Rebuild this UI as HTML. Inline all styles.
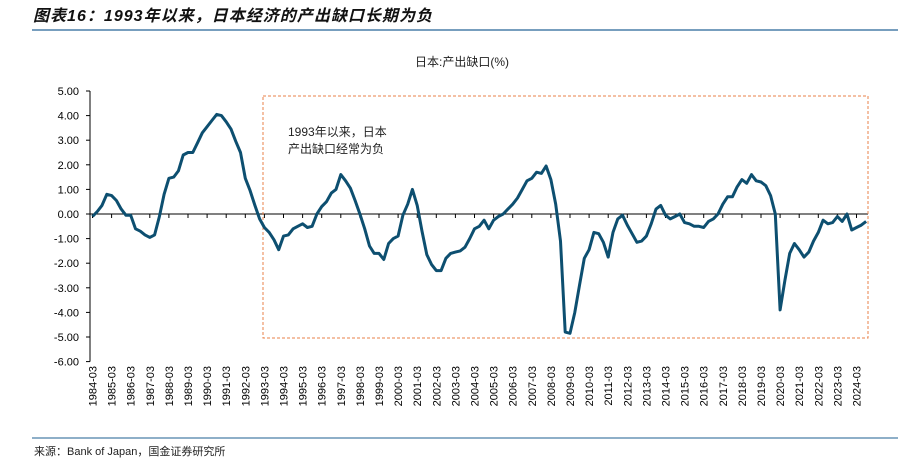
<!DOCTYPE html>
<html><head><meta charset="utf-8">
<style>
body{margin:0;background:#fff;width:898px;height:470px;overflow:hidden;font-family:"Liberation Sans","Noto Sans CJK SC",sans-serif;}
svg text{font-family:"Liberation Sans","Noto Sans CJK SC",sans-serif;}
</style></head>
<body>
<svg id="chart" width="898" height="470" viewBox="0 0 898 470" xmlns="http://www.w3.org/2000/svg">
  <text x="33" y="21" font-size="16" font-weight="bold" font-style="italic" fill="#111" textLength="399" lengthAdjust="spacing">图表16：1993年以来，日本经济的产出缺口长期为负</text>
  <line x1="32" y1="30" x2="898" y2="30" stroke="#4a7fa8" stroke-width="1.5"/>
  <text x="462" y="66" font-size="12" text-anchor="middle" fill="#222">日本:产出缺口(%)</text>
  <g id="axes"></g>
  <rect x="263" y="96" width="605" height="242" fill="none" stroke="#e8804a" stroke-width="1" stroke-dasharray="3,2"/>
  <text x="288" y="136" font-size="12" fill="#222">1993年以来，日本</text>
  <text x="288" y="153" font-size="12" fill="#222">产出缺口经常为负</text>
  <g id="series"></g>
  <line x1="32" y1="438" x2="898" y2="438" stroke="#4a7fa8" stroke-width="1.2"/>
  <text x="34" y="455" font-size="11" fill="#222">来源：Bank of Japan，国金证券研究所</text>
</svg>
<script>
const yTicks=[5,4,3,2,1,0,-1,-2,-3,-4,-5,-6];
const yearLabels=[];for(let y=1984;y<=2024;y++)yearLabels.push(y+"-03");
const startYear=1984;
const gapValues=[
-0.1,0.1,0.35,0.8, 0.75,0.55,0.2,-0.05, -0.05,-0.6,-0.7,-0.85, -0.95,-0.85,-0.1,0.8,
1.45,1.5,1.75,2.4, 2.5,2.5,2.9,3.3, 3.55,3.8,4.05,4.0, 3.75,3.45,2.95,2.5,
1.45,0.95,0.35,-0.2, -0.55,-0.75,-1.05,-1.45, -0.9,-0.85,-0.6,-0.5, -0.4,-0.55,-0.5,0.0,
0.3,0.5,0.85,1.0, 1.6,1.35,1.05,0.55, 0.0,-0.6,-1.3,-1.6, -1.6,-1.85,-1.2,-1.0,
-0.9,-0.05,0.4,1.0, 0.35,-0.7,-1.65,-2.05, -2.3,-2.3,-1.8,-1.6, -1.55,-1.5,-1.35,-1.0,
-0.6,-0.5,-0.25,-0.6, -0.25,-0.1,0.0,0.2, 0.4,0.65,1.0,1.35, 1.45,1.7,1.65,1.95,
1.4,0.4,-1.1,-4.8, -4.85,-4.0,-2.9,-1.8, -1.45,-0.75,-0.8,-1.15, -1.75,-0.75,-0.2,-0.05,
-0.45,-0.8,-1.15,-1.1, -0.9,-0.4,0.2,0.35, -0.05,-0.2,-0.1,0.0, -0.35,-0.4,-0.5,-0.5,
-0.55,-0.3,-0.2,0.0, 0.4,0.7,0.7,1.1, 1.4,1.25,1.6,1.35, 1.3,1.15,0.75,0.0,
-3.9,-2.7,-1.6,-1.2, -1.45,-1.75,-1.55,-1.1, -0.75,-0.25,-0.4,-0.35, -0.1,-0.3,0.0,-0.65,
-0.55,-0.45,-0.3
];
const NS="http://www.w3.org/2000/svg";
const x0=92.5,qw=4.775;
function xq(i){return x0+i*qw;}
function yv(v){return 214-v*24.6;}
function mk(tag,attrs,parent){const e=document.createElementNS(NS,tag);for(const k in attrs)e.setAttribute(k,attrs[k]);parent.appendChild(e);return e;}
const ax=document.getElementById('axes');
const yAxis=mk('line',{x1:90,y1:yv(5),x2:90,y2:yv(-6),stroke:'#000','stroke-width':1},ax);


yTicks.forEach(t=>{
  const tk=mk('line',{x1:86,y1:yv(t),x2:90,y2:yv(t),stroke:'#000'},ax);
  
  
  const lb=mk('text',{x:79,y:yv(t)+4,'font-size':11,'text-anchor':'end',fill:'#000'},ax);
  lb.textContent=t.toFixed(2);
  
  
});
const xAxis=mk('line',{x1:90,y1:214,x2:868,y2:214,stroke:'#000','stroke-width':1},ax);


yearLabels.forEach((l,i)=>{
  const x=xq(i*4);
  const tk=mk('line',{x1:x,y1:214,x2:x,y2:218,stroke:'#000'},ax);
  
  
  const lb=mk('text',{x:0,y:0,'font-size':11,'text-anchor':'end',fill:'#000',transform:`translate(${x+4},366) rotate(-90)`},ax);
  lb.textContent=l;
  
  
});
const sg=document.getElementById('series');
const pts=gapValues.map((v,i)=>xq(i).toFixed(1)+','+yv(v).toFixed(1)).join(' ');
const pl=mk('polyline',{points:pts,fill:'none',stroke:'#0d4f70','stroke-width':3,'stroke-linejoin':'round'},sg);


</script>
</body></html>
